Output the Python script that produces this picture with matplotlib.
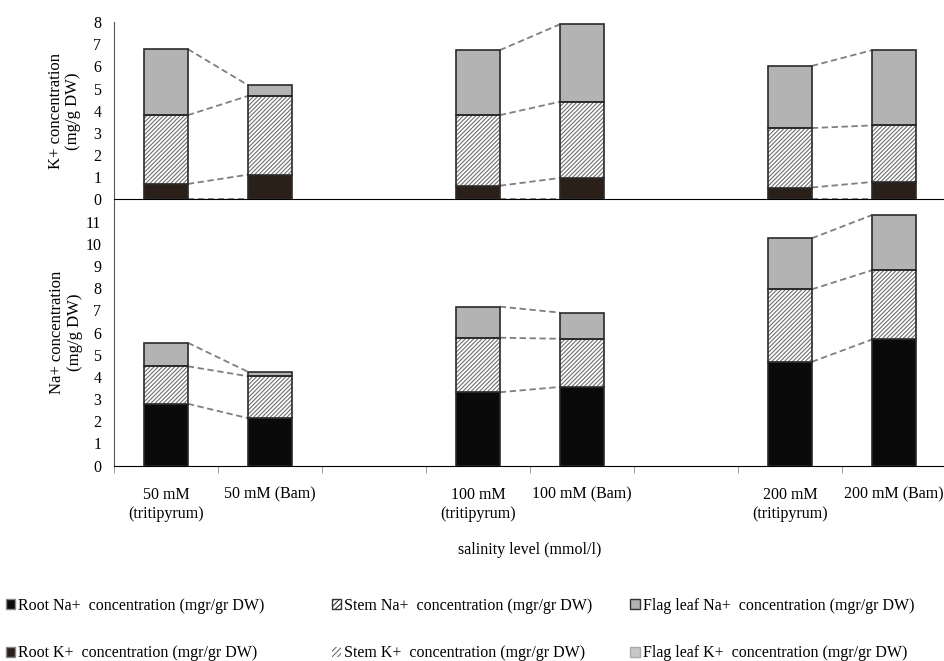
import numpy as np
import matplotlib
matplotlib.use("Agg")
import matplotlib.pyplot as plt
from matplotlib.patches import Patch

plt.rcParams["font.family"] = ["Liberation Serif", "DejaVu Serif"]
plt.rcParams["hatch.linewidth"] = 0.8

# ── data ──────────────────────────────────────────────────────────────────────
categories = ["50 mM\n(tritipyrum)", "50 mM (Bam)", "",
              "100 mM\n(tritipyrum)", "100 mM (Bam)", "",
              "200 mM\n(tritipyrum)", "200 mM (Bam)"]

# K+ (mg/g DW), one value per non-empty category
root_k = [0.70, 1.12, 0.62, 0.97, 0.54, 0.79]
stem_k = [3.10, 3.55, 3.18, 3.44, 2.68, 2.55]
leaf_k = [2.98, 0.48, 2.93, 3.49, 2.80, 3.39]

# Na+ (mg/g DW)
root_na = [2.79, 2.14, 3.31, 3.55, 4.68, 5.69]
stem_na = [1.69, 1.89, 2.46, 2.17, 3.27, 3.12]
leaf_na = [1.06, 0.20, 1.40, 1.18, 2.30, 2.49]

k_ticks = list(range(0, 9))
na_ticks = list(range(0, 12))

# ── styling ───────────────────────────────────────────────────────────────────
ROOT_NA_C = "#0a0a0a"
ROOT_K_C = "#2b2019"
LEAF_C = "#b3b3b3"
EDGE_C = "#2a2a2a"
HATCH_C = "#6e6e6e"
LINE_C = "#7f7f7f"
BAR_W = 0.42
HATCH = "////////"
FS = 11.5

slots = [i for i, c in enumerate(categories) if c]
pairs = [(0, 1), (2, 3), (4, 5)]


def draw_panel(ax, root, stem, leaf, root_color, zero_line=True):
    x = np.array(slots, dtype=float)
    root = np.array(root)
    stem = np.array(stem)
    leaf = np.array(leaf)
    ax.bar(x, root, BAR_W, color=root_color, edgecolor=EDGE_C, linewidth=1.2, zorder=3)
    ax.bar(x, stem, BAR_W, bottom=root, color="white", edgecolor=HATCH_C,
           hatch=HATCH, linewidth=0, zorder=3)
    ax.bar(x, stem, BAR_W, bottom=root, fill=False, edgecolor=EDGE_C, linewidth=1.2, zorder=4)
    ax.bar(x, leaf, BAR_W, bottom=root + stem, color=LEAF_C, edgecolor=EDGE_C,
           linewidth=1.2, zorder=3)

    # series lines between bars of each pair
    levels = [root, root + stem, root + stem + leaf]
    if zero_line:
        levels.insert(0, np.zeros_like(root))
    for a, b in pairs:
        for lv in levels:
            ax.plot([x[a] + BAR_W / 2, x[b] - BAR_W / 2], [lv[a], lv[b]],
                    color=LINE_C, linestyle=(0, (3.5, 2)), linewidth=1.3, zorder=2)

    ax.set_xlim(-0.5, len(categories) - 0.5)
    ax.patch.set_visible(False)
    for s in ["top", "right"]:
        ax.spines[s].set_visible(False)
    ax.spines["left"].set_color("#555555")
    ax.spines["bottom"].set_color("black")
    ax.tick_params(axis="y", length=0, labelsize=FS, pad=9)


fig = plt.figure(figsize=(9.45, 6.61), dpi=100)
ax_na = fig.add_axes([0.1206, 0.2955, 0.8804, 0.4027])
ax_k = fig.add_axes([0.1206, 0.6982, 0.8804, 0.2685])

draw_panel(ax_k, root_k, stem_k, leaf_k, ROOT_K_C)
ax_k.set_ylim(0, 8)
ax_k.set_yticks(k_ticks)
ax_k.set_xticks([])
ax_k.set_ylabel("K+ concentration\n(mg/g DW)", fontsize=12, labelpad=9, linespacing=1.1)

draw_panel(ax_na, root_na, stem_na, leaf_na, ROOT_NA_C, zero_line=False)
ax_na.set_ylim(0, 12)
ax_na.set_yticks(na_ticks)
ax_na.set_xticks(range(len(categories)))
ax_na.set_xticklabels(categories, fontsize=FS, linespacing=1.25)
ax_na.set_xticks(np.arange(len(categories) + 1) - 0.5, minor=True)
ax_na.tick_params(axis="x", which="major", length=0, pad=15)
ax_na.tick_params(axis="x", which="minor", length=5, color="#888888")
ax_na.set_ylabel("Na+ concentration\n(mg/g DW)", fontsize=12, labelpad=2, linespacing=1.1)
ax_na.set_xlabel("salinity level (mmol/l)", fontsize=FS, labelpad=15)

# ── legend ────────────────────────────────────────────────────────────────────
columns = [
    ([Patch(facecolor=ROOT_NA_C, edgecolor="#888888"), Patch(facecolor=ROOT_K_C, edgecolor="#888888")],
     ["Root Na+  concentration (mgr/gr DW)", "Root K+  concentration (mgr/gr DW)"], 0.006),
    ([Patch(facecolor="white", edgecolor="#333333", hatch="//////"),
      Patch(facecolor="white", edgecolor=HATCH_C, hatch="//////", linewidth=0)],
     ["Stem Na+  concentration (mgr/gr DW)", "Stem K+  concentration (mgr/gr DW)"], 0.351),
    ([Patch(facecolor=LEAF_C, edgecolor="#333333"), Patch(facecolor="#c8c8c8", edgecolor="#aaaaaa")],
     ["Flag leaf Na+  concentration (mgr/gr DW)", "Flag leaf K+  concentration (mgr/gr DW)"], 0.667),
]
for handles, labels, xpos in columns:
    fig.legend(handles, labels, loc="upper left", bbox_to_anchor=(xpos, 0.096),
               frameon=False, fontsize=FS, handlelength=0.6, handleheight=0.6,
               handletextpad=0.2, labelspacing=2.0, borderaxespad=0, borderpad=0)

fig.savefig("out.png", dpi=100)
